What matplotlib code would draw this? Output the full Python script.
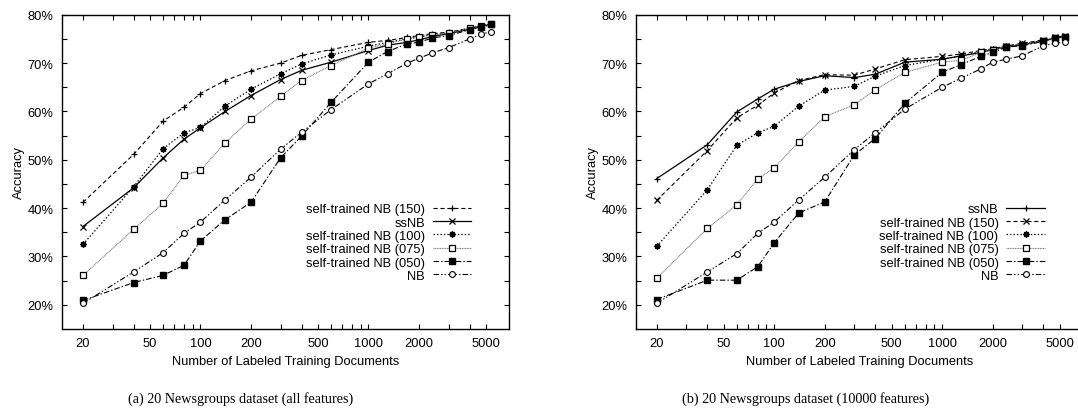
import matplotlib
matplotlib.use('Agg')
import matplotlib.pyplot as plt
from matplotlib.ticker import FixedLocator, FuncFormatter, NullLocator

# number of labeled training documents
docs = [20, 40, 60, 80, 100, 140, 200, 300, 400, 600, 1000, 1300, 1700, 2000, 2400, 3000, 4000, 4700, 5400]

# (a) all features
a_st150 = [41.2, 51.1, 58.0, 60.9, 63.7, 66.4, 68.4, 70.0, 71.6, 72.8, 74.3, 74.7, 75.3, 75.7, 76.1, 76.4, 77.2, 77.7, 78.1]
a_ssnb = [36.2, 44.2, 50.4, 54.3, 56.6, 60.0, 63.3, 66.6, 68.5, 70.2, 72.6, 73.7, 74.3, 74.8, 75.5, 76.1, 77.0, 77.6, 78.1]
a_st100 = [32.5, 44.4, 52.3, 55.6, 56.7, 61.1, 64.6, 67.8, 69.8, 71.7, 73.5, 74.3, 75.0, 75.4, 75.9, 76.2, 77.2, 77.7, 78.1]
a_st075 = [26.1, 35.6, 41.0, 46.8, 47.8, 53.5, 58.4, 63.1, 66.4, 69.5, 73.1, 74.0, 75.0, 75.4, 75.9, 76.2, 77.2, 77.6, 78.1]
a_st050 = [20.9, 24.6, 26.1, 28.2, 33.2, 37.6, 41.2, 50.4, 54.9, 61.9, 70.2, 72.4, 74.0, 74.3, 75.2, 75.7, 76.9, 77.4, 78.0]
a_nb = [20.3, 26.8, 30.8, 34.8, 37.1, 41.7, 46.4, 52.2, 55.7, 60.4, 65.7, 67.8, 70.0, 71.0, 72.1, 73.2, 75.0, 76.0, 76.5]

# (b) 10000 features
b_ssnb = [46.1, 53.1, 59.9, 62.6, 64.6, 66.2, 67.4, 67.0, 67.7, 70.2, 70.8, 71.5, 72.2, 72.8, 73.3, 73.8, 74.6, 75.2, 75.5]
b_st150 = [41.6, 51.9, 58.7, 61.3, 63.8, 66.4, 67.6, 67.5, 68.8, 70.7, 71.4, 71.9, 72.6, 73.0, 73.5, 74.1, 74.8, 75.3, 75.7]
b_st100 = [32.1, 43.8, 53.0, 55.6, 56.9, 61.1, 64.4, 65.2, 67.3, 69.5, 70.8, 71.5, 72.4, 72.9, 73.5, 73.9, 74.6, 75.1, 75.5]
b_st075 = [25.5, 35.8, 40.7, 46.1, 48.3, 53.7, 58.9, 61.4, 64.5, 68.1, 70.2, 70.6, 72.2, 72.8, 73.3, 73.7, 74.6, 75.2, 75.5]
b_st050 = [21.1, 25.1, 25.1, 27.9, 32.8, 39.0, 41.3, 51.0, 54.4, 61.7, 68.1, 69.7, 71.4, 72.2, 73.3, 73.6, 74.5, 75.2, 75.5]
b_nb = [20.3, 26.8, 30.6, 34.8, 37.1, 41.7, 46.4, 52.1, 55.6, 60.5, 65.0, 66.9, 68.8, 70.2, 70.8, 71.5, 73.6, 74.1, 74.3]

x_ticks = [20, 30, 40, 50, 60, 70, 80, 90, 100, 200, 300, 400, 500, 600, 700, 800, 900,
           1000, 2000, 3000, 4000, 5000]
x_labels = [20, 50, 100, 200, 500, 1000, 2000, 5000]
y_ticks = [20, 25, 30, 35, 40, 45, 50, 55, 60, 65, 70, 75, 80]
y_labels = [20, 30, 40, 50, 60, 70, 80]

plt.rcParams['font.family'] = ['Liberation Sans', 'DejaVu Sans']
plt.rcParams['font.size'] = 9.3
plt.rcParams['lines.scale_dashes'] = False

# gnuplot-like monochrome styles
styles = {
    'ssNB_a': dict(color='black', ls='-', marker='x', ms=5, mew=0.9),
    'ssNB_b': dict(color='black', ls='-', marker='+', ms=5, mew=0.9),
    '150_a': dict(color='black', ls=(0, (3, 2)), marker='+', ms=5, mew=0.9),
    '150_b': dict(color='black', ls=(0, (3, 2)), marker='x', ms=5, mew=0.9),
    '100': dict(color='black', ls=(0, (1, 1.5)), marker=(8, 2, 0), ms=4.5, mew=1.0),
    '075': dict(color='#777777', ls=(0, (0.7, 0.5)), marker='s', ms=4.5, mfc='white', mec='black', mew=0.9),
    '050': dict(color='black', ls=(0, (4, 1.5, 1, 1.5)), marker='s', ms=4.5, mfc='black', mec='black'),
    'NB': dict(color='black', ls=(0, (4, 1.5, 1, 1.5, 1, 1.5)), marker='o', ms=4.2, mfc='white', mec='black', mew=0.8),
}


def style_axes(ax):
    ax.set_xscale('log')
    ax.set_xlim(15, 6900)
    ax.set_ylim(15, 80)
    ax.xaxis.set_major_locator(FixedLocator(x_ticks))
    ax.xaxis.set_minor_locator(NullLocator())
    ax.xaxis.set_major_formatter(FuncFormatter(lambda v, p: '%d' % round(v) if round(v) in x_labels else ''))
    ax.yaxis.set_major_locator(FixedLocator(y_ticks))
    ax.yaxis.set_major_formatter(FuncFormatter(lambda v, p: '%d%%' % round(v) if round(v) in y_labels else ''))
    ax.tick_params(direction='in', length=3.5, width=0.8, top=True, right=True, labelsize=9.3, pad=6)
    for sp in ax.spines.values():
        sp.set_linewidth(1.0)
    ax.set_xlabel('Number of Labeled Training Documents', fontsize=9.3, labelpad=4)
    ax.set_ylabel('Accuracy', fontsize=9.3, labelpad=2)


fig = plt.figure(figsize=(10.78, 4.14), dpi=100)
ax1 = fig.add_axes([0.0575, 0.2029, 0.415, 0.759])
ax2 = fig.add_axes([0.5897, 0.2029, 0.415, 0.759])

ax1.plot(docs, a_st150, lw=0.8, label='self-trained NB (150)', **styles['150_a'])
ax1.plot(docs, a_ssnb, lw=0.9, label='ssNB', **styles['ssNB_a'])
ax1.plot(docs, a_st100, lw=0.9, label='self-trained NB (100)', **styles['100'])
ax1.plot(docs, a_st075, lw=0.8, label='self-trained NB (075)', **styles['075'])
ax1.plot(docs, a_st050, lw=0.8, label='self-trained NB (050)', **styles['050'])
ax1.plot(docs, a_nb, lw=0.8, label='NB', **styles['NB'])

ax2.plot(docs, b_ssnb, lw=0.9, label='ssNB', **styles['ssNB_b'])
ax2.plot(docs, b_st150, lw=0.8, label='self-trained NB (150)', **styles['150_b'])
ax2.plot(docs, b_st100, lw=0.9, label='self-trained NB (100)', **styles['100'])
ax2.plot(docs, b_st075, lw=0.8, label='self-trained NB (075)', **styles['075'])
ax2.plot(docs, b_st050, lw=0.8, label='self-trained NB (050)', **styles['050'])
ax2.plot(docs, b_nb, lw=0.8, label='NB', **styles['NB'])

for ax in (ax1, ax2):
    style_axes(ax)
    ax.legend(loc='upper right', bbox_to_anchor=(0.915, 0.40), frameon=False, markerfirst=False,
              handlelength=3.0, handletextpad=0.6, labelspacing=0.1, borderpad=0, borderaxespad=0,
              fontsize=9.3)

fig.text(0.223, 0.035, '(a) 20 Newsgroups dataset (all features)', ha='center', va='center',
         family='Liberation Serif', fontsize=10.2)
fig.text(0.747, 0.035, '(b) 20 Newsgroups dataset (10000 features)', ha='center', va='center',
         family='Liberation Serif', fontsize=10.2)

plt.savefig('out.png', dpi=100)
